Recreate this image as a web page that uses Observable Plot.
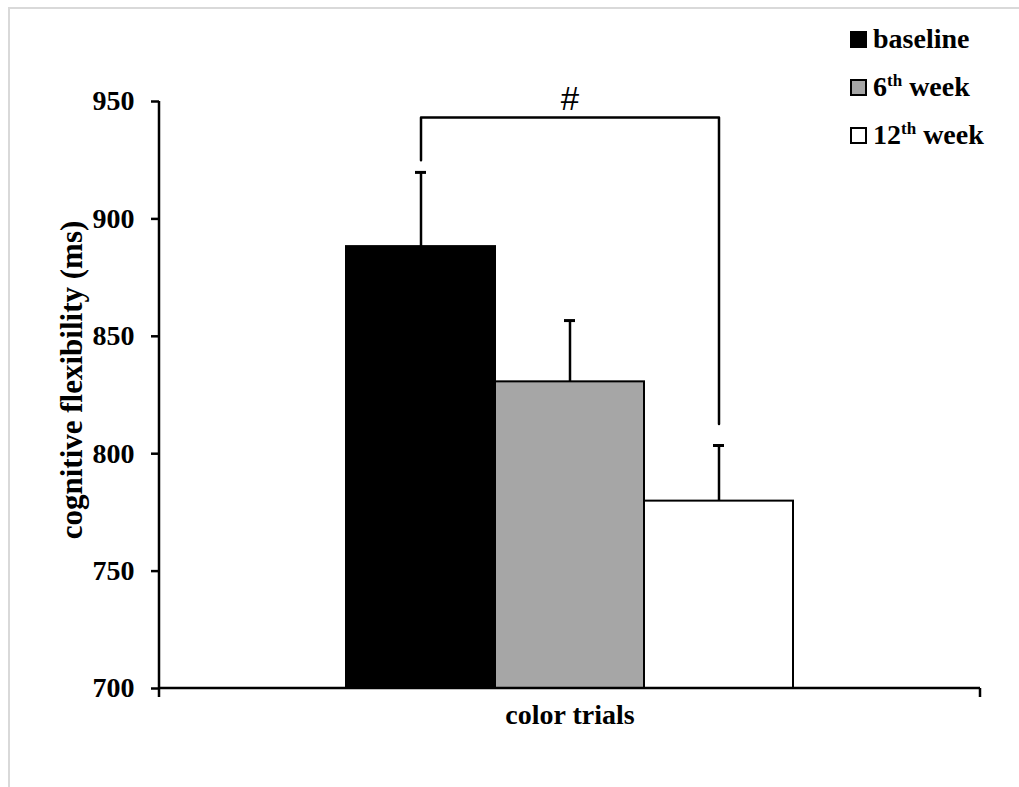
<!DOCTYPE html>
<html>
<head>
<meta charset="utf-8">
<script src="https://cdn.jsdelivr.net/npm/d3@7"></script>
<script src="https://cdn.jsdelivr.net/npm/@observablehq/plot@0.6"></script>
<style>
  body { margin: 0; background: #fff; }
  #wrap { position: relative; width: 1019px; height: 787px; overflow: hidden; background: #fff; }
  #border { position: absolute; left: 8px; top: 7px; width: 1100px; height: 900px;
            border-top: 2px solid #d9d9d9; border-left: 2px solid #d9d9d9; }
  #chart { position: absolute; left: 0; top: 0; }
  #legend { position: absolute; left: 850px; top: 15px; font-family: "Liberation Serif", "Times New Roman", serif;
            font-weight: bold; font-size: 28px; color: #000; }
  .row { display: flex; align-items: center; height: 48px; white-space: nowrap; }
  .sw { width: 13px; height: 13px; border: 2px solid #000; margin-right: 6px; flex: none; }
  .row sup { font-size: 17px; line-height: 0; vertical-align: 0.6em; }
</style>
</head>
<body>
<div id="wrap">
  <div id="border"></div>
  <div id="chart"></div>
  <div id="legend"></div>
</div>
<script>
// Colour-trial reaction times at each measurement point
const groups = ["baseline", "6th week", "12th week"];
const groupLabels = [["baseline", ""], ["6", "th week"], ["12", "th week"]];
const means = [888.2, 830.6, 779.8];
const errors = [31.6, 26.1, 23.7];
const fills = ["#000000", "#a6a6a6", "#ffffff"];
const yTicks = [700, 750, 800, 850, 900, 950];

// Significance bracket between baseline and 12th week
const bracketGroups = ["baseline", "12th week"];
const bracketLevels = [925, 943.2, 812.6];
const bracketLabel = "#";

const xLabel = "color trials";
const yLabel = "cognitive flexibility (ms)";

const rows = groups.map((g, i) => ({group: g, mean: means[i], err: errors[i]}));
const bracketPts = [
  {group: bracketGroups[0], value: bracketLevels[0]},
  {group: bracketGroups[0], value: bracketLevels[1]},
  {group: bracketGroups[1], value: bracketLevels[1]},
  {group: bracketGroups[1], value: bracketLevels[2]}
];

// Left and bottom axis lines, with end ticks on the category axis
function axisLines(index, scales, values, dims) {
  const x0 = dims.marginLeft, x1 = dims.width - dims.marginRight;
  const y0 = dims.marginTop, y1 = dims.height - dims.marginBottom;
  const g = d3.create("svg:g").attr("stroke", "#000").attr("stroke-width", 2.5).attr("fill", "none");
  g.append("path").attr("d", `M${x0},${y0}V${y1}H${x1}M${x0},${y1}v9M${x1},${y1}v9`);
  return g.node();
}

const serif = "Liberation Serif, Times New Roman, serif";

const chart = Plot.plot({
  width: 1019,
  height: 787,
  marginLeft: 159,
  marginRight: 39,
  marginTop: 101,
  marginBottom: 99,
  style: {fontFamily: serif, fontWeight: "bold", fontSize: "28px", color: "#000", background: "transparent"},
  x: {domain: groups, paddingInner: 0, paddingOuter: 1.2427, axis: null},
  y: {domain: [700, 950], axis: null},
  color: {domain: groups, range: fills},
  marks: [
    Plot.barY(rows, {x: "group", y1: 700, y2: "mean", fill: "group", stroke: "#000", strokeWidth: 2}),
    Plot.ruleX(rows, {x: "group", y1: "mean", y2: d => d.mean + d.err, stroke: "#000", strokeWidth: 2.5}),
    Plot.tickY(rows, {x: "group", y: d => d.mean + d.err, insetLeft: 69, insetRight: 69, stroke: "#000", strokeWidth: 3}),
    Plot.line(bracketPts, {x: "group", y: "value", stroke: "#000", strokeWidth: 2.5}),
    Plot.text([bracketLabel], {x: () => groups[1], y: () => bracketLevels[1], dy: -18,
      fontFamily: "Liberation Sans, Arial, sans-serif", fontWeight: "normal", fontSize: 33}),
    Plot.axisY({ticks: yTicks, tickSize: 8, tickPadding: 17, strokeWidth: 2.5, label: null,
      fontSize: 28, fontFamily: serif, fontWeight: "bold", tickFormat: d => d}),
    Plot.text([xLabel], {frameAnchor: "bottom", dy: 35, fontSize: 28}),
    Plot.text([yLabel], {frameAnchor: "left", textAnchor: "middle", dx: -87, dy: -15, rotate: -90, fontSize: 31}),
    axisLines
  ]
});
document.getElementById("chart").appendChild(chart);

// Legend with superscript ordinals
const legend = d3.select("#legend");
groups.forEach((g, i) => {
  const row = legend.append("div").attr("class", "row");
  row.append("div").attr("class", "sw").style("background", fills[i]);
  const [num, rest] = groupLabels[i];
  const label = row.append("span");
  if (rest) {
    label.append("span").text(num);
    const [sup, ...tail] = rest.split(" ");
    label.append("sup").text(sup);
    label.append("span").text(" " + tail.join(" "));
  } else {
    label.text(num);
  }
});
</script>
</body>
</html>
